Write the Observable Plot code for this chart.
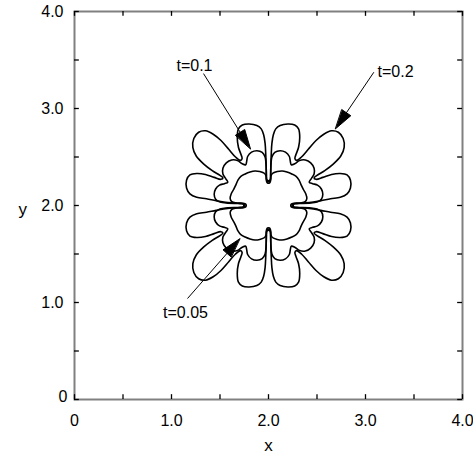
<!DOCTYPE html>
<html><head><meta charset="utf-8">
<script src="https://cdn.jsdelivr.net/npm/d3@7"></script>
<script src="https://cdn.jsdelivr.net/npm/@observablehq/plot@0.6"></script>
<style>body{margin:0;background:#fff} #chart svg{display:block}</style>
</head><body><div id="chart"></div>
<script>
// Times of the three interface contours
const times = ["t=0.05", "t=0.1", "t=0.2"];
const center = [2, 2];
// Traced upper-right quadrant of each contour, as offsets from the centre (clockwise, top groove -> right groove)
const innerQ1 = [[0.010,0.258],[0.020,0.272],[0.024,0.300],[0.040,0.330],[0.090,0.350],[0.140,0.356],[0.190,0.345],[0.240,0.325],[0.285,0.300],[0.315,0.262],[0.335,0.215],[0.360,0.165],[0.385,0.118],[0.395,0.072],[0.378,0.040],[0.335,0.026],[0.290,0.022],[0.268,0.019],[0.256,0.010]];
const middleQ1 = [[0.010,0.246],[0.020,0.262],[0.022,0.320],[0.025,0.420],[0.035,0.500],[0.065,0.548],[0.120,0.565],[0.175,0.550],[0.215,0.505],[0.225,0.455],[0.235,0.420],[0.270,0.430],[0.320,0.465],[0.380,0.470],[0.435,0.440],[0.470,0.385],[0.470,0.325],[0.440,0.275],[0.420,0.240],[0.455,0.225],[0.505,0.210],[0.545,0.170],[0.560,0.115],[0.545,0.065],[0.500,0.035],[0.420,0.024],[0.320,0.022],[0.262,0.020],[0.246,0.010]];
const outerQ1 = [[0.010,0.232],[0.020,0.250],[0.022,0.300],[0.024,0.400],[0.028,0.520],[0.035,0.640],[0.050,0.730],[0.075,0.790],[0.120,0.825],[0.200,0.840],[0.270,0.830],[0.310,0.790],[0.322,0.700],[0.310,0.600],[0.285,0.530],[0.272,0.485],[0.290,0.465],[0.340,0.500],[0.410,0.580],[0.490,0.670],[0.570,0.735],[0.650,0.770],[0.720,0.755],[0.770,0.690],[0.780,0.600],[0.745,0.510],[0.670,0.430],[0.580,0.360],[0.500,0.310],[0.470,0.285],[0.490,0.270],[0.560,0.290],[0.650,0.320],[0.740,0.330],[0.810,0.315],[0.845,0.260],[0.845,0.180],[0.810,0.120],[0.740,0.085],[0.640,0.070],[0.540,0.050],[0.420,0.030],[0.300,0.022],[0.250,0.020],[0.232,0.010]];
const quadrants = [innerQ1, middleQ1, outerQ1];

// Axis ticks and labels
const xTickValues = [0, 1, 2, 3, 4];
const xTickLabels = ["0", "1.0", "2.0", "3.0", "4.0"];
const yTickValues = [1, 2, 3, 4];
const yTickLabels = ["1.0", "2.0", "3.0", "4.0"];
const yZeroLabel = ["0"];
const minorTicks = [0, 0.5, 1, 1.5, 2, 2.5, 3, 3.5, 4];

// Annotations: arrow tails, arrow tips, label positions
const arrowTails = [[1.165, 1.041], [1.33, 3.36], [3.086, 3.374]];
const arrowTips = [[1.704, 1.657], [1.814, 2.585], [2.691, 2.791]];
const labelPos = [[1.144, 0.897], [1.237, 3.44], [3.124, 3.376]];
const labelAnchor = ["middle", "middle", "start"];

// Build full closed contour from its traced quadrant using the pattern's mirror symmetry
function ring(q) {
  const rev = q.slice().reverse();
  return [
    ...q,
    ...rev.map(([a, b]) => [a, -b]),
    ...q.map(([a, b]) => [-a, -b]),
    ...rev.map(([a, b]) => [-a, b])
  ];
}
const contours = [];
quadrants.forEach((q, i) => ring(q).forEach(([dx, dy]) => contours.push({t: times[i], x: center[0] + dx, y: center[1] + dy})));

const arrows = times.map((t, i) => ({t, x1: arrowTails[i][0], y1: arrowTails[i][1], x2: arrowTips[i][0], y2: arrowTips[i][1]}));
const heads = [];
arrows.forEach(a => {
  const L = 0.2, W = 0.055;
  const vx = a.x2 - a.x1, vy = a.y2 - a.y1, n = Math.hypot(vx, vy);
  const ux = vx / n, uy = vy / n, px = -uy, py = ux;
  const bx = a.x2 - L * ux, by = a.y2 - L * uy;
  heads.push({t: a.t, x: a.x2, y: a.y2}, {t: a.t, x: bx + W * px, y: by + W * py}, {t: a.t, x: bx - W * px, y: by - W * py});
});
const shafts = arrows.map(a => {
  const vx = a.x2 - a.x1, vy = a.y2 - a.y1, n = Math.hypot(vx, vy);
  return {...a, x2: a.x2 - 0.15 * vx / n, y2: a.y2 - 0.15 * vy / n};
});
const labels = times.map((t, i) => ({t, x: labelPos[i][0], y: labelPos[i][1], anchor: labelAnchor[i]}));

const font = "'Liberation Sans', Arial, Helvetica, sans-serif";
const chart = Plot.plot({
  width: 473, height: 459,
  marginLeft: 74, marginRight: 11, marginTop: 11, marginBottom: 60,
  x: {domain: [0, 4], axis: null},
  y: {domain: [0, 4], axis: null},
  style: {fontFamily: font, fontSize: "16px", background: "#fff", color: "#000"},
  marks: [
    Plot.frame({stroke: "#808080", strokeWidth: 2}),
    Plot.ruleX(minorTicks, {x: d => d, y1: 0, y2: 0.05, stroke: "#000", strokeWidth: 1.3}),
    Plot.ruleX(minorTicks, {x: d => d, y1: 4, y2: 3.95, stroke: "#000", strokeWidth: 1.3}),
    Plot.ruleY(minorTicks, {y: d => d, x1: 0, x2: 0.05, stroke: "#000", strokeWidth: 1.3}),
    Plot.ruleY(minorTicks, {y: d => d, x1: 4, x2: 3.95, stroke: "#000", strokeWidth: 1.3}),
    Plot.text(xTickValues, {x: d => d, y: 0, text: (d, i) => xTickLabels[i], dy: 21, fontSize: 16, fill: "#000"}),
    Plot.text(yTickValues, {x: 0, y: d => d, text: (d, i) => yTickLabels[i], textAnchor: "end", dx: -11, fontSize: 16, fill: "#000"}),
    Plot.text(yZeroLabel, {x: 0, y: 0, text: d => d, textAnchor: "end", dx: -7, dy: -3, fontSize: 16, fill: "#000"}),
    Plot.text(["x"], {frameAnchor: "bottom", text: d => d, dy: 51, fontSize: 17, fill: "#000"}),
    Plot.text(["y"], {frameAnchor: "left", text: d => d, dx: -56, dy: 4, fontSize: 17, fill: "#000"}),
    Plot.line(contours, {x: "x", y: "y", z: "t", curve: "catmull-rom-closed", stroke: "#000", strokeWidth: 1.6}),
    Plot.link(shafts, {x1: "x1", y1: "y1", x2: "x2", y2: "y2", stroke: "#000", strokeWidth: 1}),
    Plot.line(heads, {x: "x", y: "y", z: "t", curve: "linear-closed", fill: "#000", stroke: "#000", strokeWidth: 1}),
    Plot.text(labels.filter(d => d.anchor === "middle"), {x: "x", y: "y", text: "t", textAnchor: "middle", fontSize: 16, fill: "#000"}),
    Plot.text(labels.filter(d => d.anchor === "start"), {x: "x", y: "y", text: "t", textAnchor: "start", fontSize: 16, fill: "#000"})
  ]
});
document.getElementById("chart").appendChild(chart);
</script>
</body></html>
